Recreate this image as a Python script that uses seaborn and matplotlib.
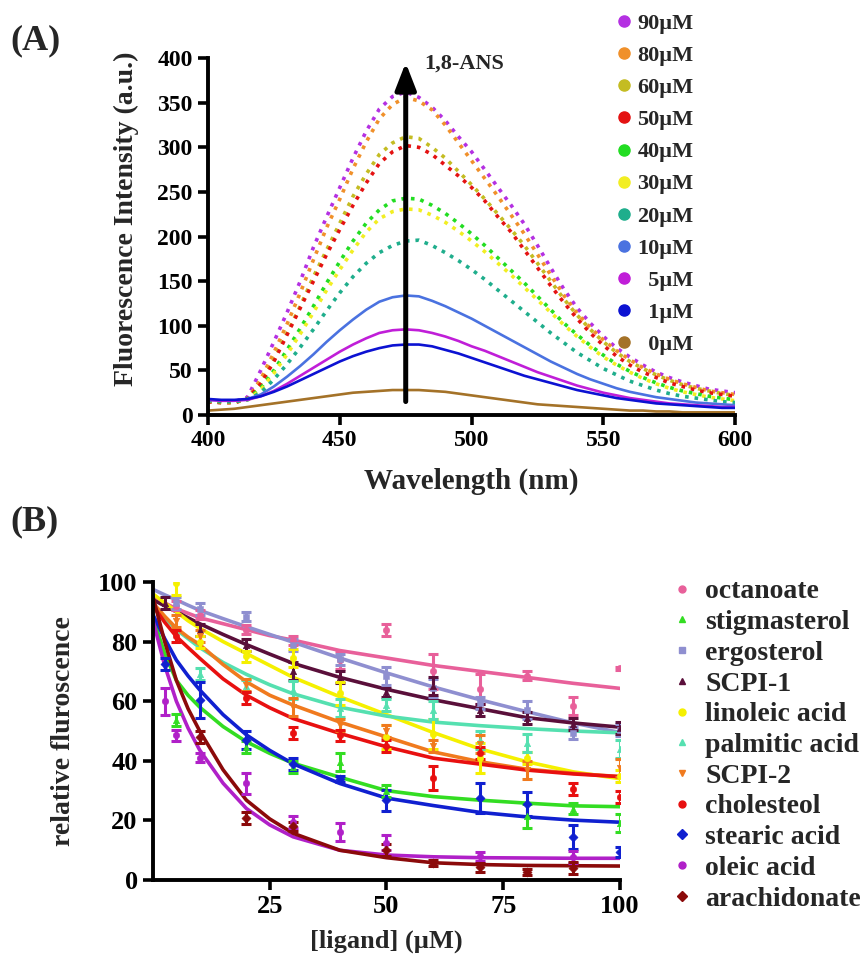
import numpy as np
import matplotlib
matplotlib.use("Agg")
import matplotlib.pyplot as plt
import seaborn as sns
from matplotlib.lines import Line2D

sns.set_theme(style="ticks")
plt.rcParams['font.family'] = ['Liberation Serif', 'DejaVu Serif']
plt.rcParams['font.weight'] = 'bold'
plt.rcParams['axes.labelweight'] = 'bold'

nan = np.nan

# ---------------- Panel A data ----------------
wavelength = list(range(400, 601, 5))
conc_labels = ["90µM", "80µM", "60µM", "50µM", "40µM", "30µM", "20µM", "10µM", "  5µM", "  1µM", "  0µM"]
conc_colors = ["#b430e2", "#f0902a", "#c4bc22", "#e41212", "#22dd22", "#f2ee22",
               "#1fae8c", "#4a72e0", "#c01ed8", "#0c12d2", "#a47228"]

int_90 = [15, 14, 15, 20, 50, 82, 115, 150, 188, 222,
          255, 288, 318, 343, 357, 362, 356, 345, 330, 312,
          295, 275, 255, 235, 214, 190, 165, 141, 120, 103,
          88, 75, 65, 56, 48, 42, 37, 33, 29, 27, 25]
int_80 = [15, 14, 14, 18, 40, 70, 102, 137, 174, 210,
          242, 276, 306, 332, 348, 356, 352, 342, 325, 305,
          285, 265, 245, 224, 203, 180, 157, 134, 114, 98,
          84, 72, 62, 53, 46, 40, 35, 31, 27, 25, 23]
int_60 = [15, 14, 14, 18, 35, 62, 92, 122, 155, 185,
          215, 245, 270, 292, 305, 312, 310, 300, 288, 273,
          258, 242, 225, 208, 190, 170, 150, 130, 112, 96,
          82, 70, 60, 52, 45, 39, 34, 30, 27, 24, 22]
int_50 = [15, 14, 14, 18, 35, 60, 90, 120, 150, 180,
          208, 235, 260, 282, 295, 302, 300, 292, 280, 268,
          255, 240, 222, 205, 185, 165, 145, 126, 108, 92,
          78, 66, 56, 48, 42, 36, 32, 28, 25, 23, 21]
int_40 = [16, 15, 15, 18, 30, 50, 73, 97, 122, 148,
          172, 195, 215, 230, 240, 243, 242, 235, 226, 215,
          203, 190, 176, 162, 148, 133, 118, 103, 90, 78,
          67, 57, 49, 42, 36, 31, 27, 24, 21, 19, 17]
int_30 = [16, 15, 15, 17, 28, 47, 68, 91, 115, 140,
          163, 185, 205, 220, 228, 231, 230, 224, 216, 206,
          195, 183, 170, 157, 143, 129, 115, 101, 88, 76,
          65, 56, 48, 41, 35, 30, 26, 23, 20, 18, 16]
int_20 = [16, 15, 15, 17, 25, 40, 57, 76, 96, 117,
          137, 155, 170, 182, 190, 195, 196, 190, 182, 173,
          163, 152, 140, 128, 116, 104, 92, 81, 70, 61,
          52, 45, 38, 33, 28, 24, 21, 19, 17, 15, 14]
int_10 = [17, 16, 16, 18, 23, 32, 43, 55, 68, 82,
          95, 107, 118, 127, 132, 134, 133, 128, 122, 115,
          108, 100, 92, 84, 76, 68, 60, 53, 46, 40,
          35, 30, 26, 23, 20, 18, 16, 14, 13, 12, 11]
int_5 = [17, 16, 16, 17, 21, 27, 35, 44, 53, 62,
         71, 79, 86, 92, 95, 96, 95, 92, 88, 83,
         77, 72, 66, 60, 54, 48, 43, 38, 33, 29,
         25, 22, 19, 17, 15, 13, 12, 11, 10, 9, 9]
int_1 = [18, 17, 17, 18, 21, 26, 32, 39, 46, 53,
         60, 66, 71, 75, 78, 79, 79, 77, 73, 69,
         64, 59, 54, 49, 44, 40, 36, 32, 28, 25,
         22, 19, 17, 15, 13, 12, 11, 10, 9, 8, 8]
int_0 = [5, 6, 7, 9, 11, 13, 15, 17, 19, 21,
         23, 25, 26, 27, 28, 28, 28, 27, 26, 24,
         22, 20, 18, 16, 14, 12, 11, 10, 9, 8,
         7, 6, 5, 5, 4, 4, 3, 3, 3, 3, 3]
spectra = [int_90, int_80, int_60, int_50, int_40, int_30, int_20, int_10, int_5, int_1, int_0]

# ---------------- Panel B data ----------------
ligands = ["octanoate", "stigmasterol", "ergosterol", "SCPI-1", "linoleic acid",
           "palmitic acid", "SCPI-2", "cholesteol", "stearic acid", "oleic acid", "arachidonate"]
lig_colors = ["#e8609a", "#33dd22", "#8f8fd0", "#5a0f3a", "#f5f000",
              "#55e0b0", "#f07a1e", "#e81010", "#1020d0", "#b020c8", "#8b0a0a"]
lig_markers = ["o", "^", "s", "^", "o", "^", "v", "o", "D", "o", "D"]

point_x = [2.5, 5, 10, 20, 30, 40, 50, 60, 70, 80, 90, 100]
fit_x = [0, 2.5, 5, 7.5, 10, 15, 20, 25, 30, 40, 50, 60, 70, 80, 90, 100]

octanoate_y = [nan, 92, 89, 84, 80.5, 73.8, 84, 70, 64, 68.5, 58.3, 71]
octanoate_err = [0, 1.5, 1.5, 1.5, 1.5, 3, 2, 6, 5, 1.5, 3, 0.5]
octanoate_fit = [95, 93, 91, 89.5, 88, 86, 84, 82, 80.5, 77, 74.5, 72, 70, 68, 66, 64.3]

stigmasterol_y = [nan, 53.7, nan, 44.7, 38, 39.7, 30, nan, nan, 21.6, 24, 19]
stigmasterol_err = [0, 2, 0, 2, 2, 3, 2, 0, 0, 4, 2, 3]
stigmasterol_fit = [88, 76, 67, 62, 58, 51.5, 46.4, 42.5, 39.2, 34.5, 30, 28, 26.8, 25.8, 24.9, 24.6]

ergosterol_y = [nan, 93, 91, 88.4, 79, 74, 68.5, 64.5, 59.3, 57, 49.3, 50.3]
ergosterol_err = [0, 2, 2, 1.5, 2, 2, 3, 3, 2, 3, 2, 2]
ergosterol_fit = [97.5, 95.7, 94, 92.2, 90.5, 87.7, 85, 82.4, 79.8, 74.5, 69.5, 64.8, 60.5, 56.5, 52.7, 49.5]

scpi1_y = [93, nan, 84, 79, 70, 68, 63, 65, 57, 54.5, 52.5, 51]
scpi1_err = [2, 0, 2, 2, 3, 2, 1.5, 3, 2, 2, 2, 2]
scpi1_fit = [94, 92, 90, 88, 86, 82.4, 79, 75.8, 72.7, 68, 64, 60.5, 57.5, 54.5, 52.7, 51.3]

linoleic_y = [nan, 99.5, 80, 75, 74.5, 62.6, 48, 49, 41, 41, nan, 35]
linoleic_err = [0, 4, 2, 2, 3, 4, 4, 5, 5, 2, 0, 2]
linoleic_fit = [96, 93, 90, 87, 84.5, 80, 76, 72, 68, 61.5, 55.5, 49.5, 44, 39.7, 36.3, 34]

palmitic_y = [nan, nan, 69, 65, 63.8, 57.6, 58.7, 57, 47, 46, nan, 44]
palmitic_err = [0, 0, 2, 2, 3, 3, 2, 3, 3, 3, 0, 3]
palmitic_fit = [92, 88, 84, 81, 78, 73, 69, 65.5, 62.5, 58, 55, 53, 51.8, 50.8, 50, 49.4]

scpi2_y = [nan, 87, 82, 65.4, 58, 52, 50, 45, 45.6, 37, nan, 37.5]
scpi2_err = [0, 2, 2, 2, 3, 2, 2, 2, 3, 3, 0, 3]
scpi2_fit = [93, 88.5, 84.5, 81.5, 79, 72.3, 66.5, 62, 58.7, 53, 48, 43, 39.7, 37.2, 35.8, 34.7]

cholesterol_y = [nan, 82, nan, 61, 49.2, 48.5, 45, 34.1, 42.5, nan, 30.7, 28]
cholesterol_err = [0, 2, 0, 2, 2, 2, 2, 4, 2, 0, 2, 2]
cholesterol_fit = [92, 86.5, 81.7, 78, 74.4, 67.5, 62, 57.8, 54.2, 49.2, 44.7, 40.9, 38.9, 36.9, 35.6, 34.7]

stearic_y = [72.6, nan, 60.4, 47, 39, 34, 26.8, nan, 27.5, 25.4, 14.5, 9.5]
stearic_err = [2, 0, 6, 3, 2, 1, 3.5, 0, 5, 4, 4, 1.7]
stearic_fit = [89, 81, 73.8, 68.5, 63.8, 55.5, 48.7, 43.5, 39, 32.4, 27.5, 25, 22.7, 21.2, 20.1, 19.4]

oleic_y = [60, 48.5, 41, 32.4, 19.6, 16.2, 12.5, nan, 8, nan, 7.6, nan]
oleic_err = [4.5, 2, 1.5, 3.5, 2, 3, 2.5, 0, 1.5, 0, 2, 0]
oleic_fit = [87, 72, 60, 51, 43.6, 32.5, 24, 18.5, 14.5, 10, 8.4, 7.8, 7.5, 7.4, 7.3, 7.3]

arachidonate_y = [nan, nan, 48, 20.7, 18, nan, 10, 5.6, 4.3, 2.8, 4, nan]
arachidonate_err = [0, 0, 2, 2, 1.5, 0, 2, 1, 1.5, 1, 2, 0]
arachidonate_fit = [95, 80, 67, 57.5, 50, 37, 26.8, 20.5, 15.7, 10, 7.5, 5.8, 5.2, 4.9, 4.8, 4.7]

lig_y = [octanoate_y, stigmasterol_y, ergosterol_y, scpi1_y, linoleic_y, palmitic_y,
         scpi2_y, cholesterol_y, stearic_y, oleic_y, arachidonate_y]
lig_err = [octanoate_err, stigmasterol_err, ergosterol_err, scpi1_err, linoleic_err, palmitic_err,
           scpi2_err, cholesterol_err, stearic_err, oleic_err, arachidonate_err]
lig_fit = [octanoate_fit, stigmasterol_fit, ergosterol_fit, scpi1_fit, linoleic_fit, palmitic_fit,
           scpi2_fit, cholesterol_fit, stearic_fit, oleic_fit, arachidonate_fit]

# ---------------- Figure ----------------
fig = plt.figure(figsize=(8.63, 9.69), dpi=100)

def style_axes(ax, ticksize):
    sns.despine(ax=ax)
    for s in ["left", "bottom"]:
        ax.spines[s].set_linewidth(2.8)
        ax.spines[s].set_color("black")
    ax.tick_params(axis="both", direction="out", length=7, width=2.6, colors="black",
                   labelsize=ticksize, pad=4)
    for lab in ax.get_xticklabels() + ax.get_yticklabels():
        lab.set_fontweight("bold")

# Panel A
axA = fig.add_axes([0.241, 0.5717, 0.611, 0.3683])
for i, (vals, col) in enumerate(zip(spectra, conc_colors)):
    ls = ":" if i < 7 else "-"
    lw = 2.6 if i < 7 else 1.9
    sns.lineplot(x=wavelength, y=vals, color=col, ax=axA, linestyle=ls, linewidth=lw,
                 legend=False)
axA.set_xlim(400, 600)
axA.set_ylim(0, 400)
axA.set_xticks([400, 450, 500, 550, 600])
axA.set_yticks(list(range(0, 401, 50)))
style_axes(axA, 17)
axA.set_xlabel("Wavelength (nm)", fontsize=21, fontweight="bold", labelpad=12)
axA.set_ylabel("Fluorescence Intensity (a.u.)", fontsize=20, fontweight="bold", labelpad=10)
axA.yaxis.set_label_coords(-0.13, 0.55)
axA.annotate("", xy=(475, 398), xytext=(475, 12),
             arrowprops=dict(arrowstyle="-|>,head_width=0.35,head_length=0.9",
                             lw=3.6, color="black", mutation_scale=18))
axA.text(482, 394, "1,8-ANS", fontsize=16, fontweight="bold", va="center", ha="left")

handlesA = [Line2D([], [], marker="o", linestyle="", color=c, markersize=8) for c in conc_colors]
fig.legend(handlesA, conc_labels, loc="upper left", bbox_to_anchor=(0.696, 1.0),
           frameon=False, prop={"family": "Liberation Serif", "weight": "bold", "size": 16},
           labelspacing=0.52, handletextpad=0.15, handlelength=0.9, borderaxespad=0.2)

fig.text(0.012, 0.958, "(A)", fontsize=26, fontweight="bold", va="center", ha="left")
fig.text(0.012, 0.461, "(B)", fontsize=26, fontweight="bold", va="center", ha="left")

# Panel B
axB = fig.add_axes([0.1773, 0.0918, 0.5411, 0.3076])
for name, col, mk, yv, ev, fv in zip(ligands, lig_colors, lig_markers, lig_y, lig_err, lig_fit):
    sns.lineplot(x=fit_x, y=fv, color=col, ax=axB, linewidth=2.6, legend=False)
    yarr = np.array(yv, dtype=float)
    earr = np.array(ev, dtype=float)
    xarr = np.array(point_x, dtype=float)
    m = ~np.isnan(yarr)
    axB.errorbar(xarr[m], yarr[m], yerr=earr[m], fmt="none", ecolor=col,
                 elinewidth=2.2, capsize=3.5, capthick=2.2, zorder=3)
    sns.scatterplot(x=xarr[m], y=yarr[m], color=col, marker=mk, s=22, edgecolor=col,
                    ax=axB, legend=False, zorder=4)
axB.set_xlim(0, 100)
axB.set_ylim(0, 100)
axB.set_xticks([25, 50, 75, 100])
axB.set_yticks([0, 20, 40, 60, 80, 100])
style_axes(axB, 19)
axB.set_xlabel("[ligand] (µM)", fontsize=19, fontweight="bold", labelpad=8)
axB.set_ylabel("relative fluroscence", fontsize=20, fontweight="bold", labelpad=16)

handlesB = [Line2D([], [], marker=m, linestyle="", color=c, markersize=5)
            for c, m in zip(lig_colors, lig_markers)]
fig.legend(handlesB, ligands, loc="upper left", bbox_to_anchor=(0.764, 0.414),
           frameon=False, prop={"family": "Liberation Serif", "weight": "bold", "size": 20},
           labelspacing=0.19, handletextpad=0.45, handlelength=0.8, borderaxespad=0.0)

fig.savefig("out.png", dpi=100)
